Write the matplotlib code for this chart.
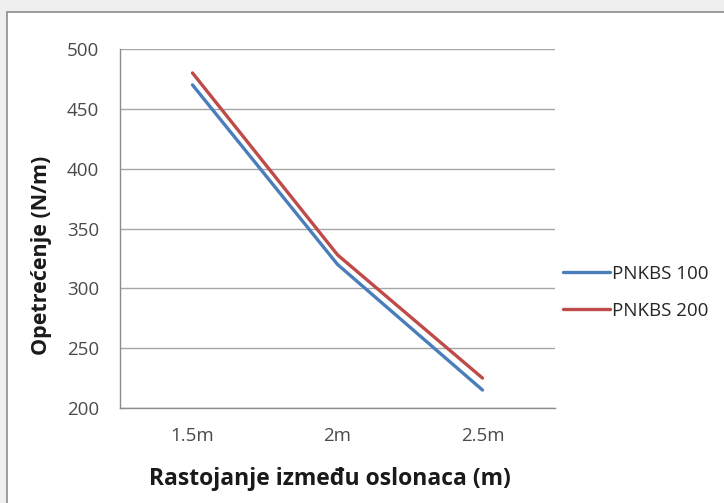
import matplotlib
matplotlib.use("Agg")
import matplotlib.pyplot as plt
from matplotlib.patches import Rectangle

categories = ["1.5m", "2m", "2.5m"]
pnkbs100 = [470, 320, 215]
pnkbs200 = [480, 328, 225]
series_names = ["PNKBS 100", "PNKBS 200"]
yticks = [200, 250, 300, 350, 400, 450, 500]

plt.rcParams['font.family'] = ['Open Sans', 'DejaVu Sans']

W, H = 724, 503
fig = plt.figure(figsize=(W/100, H/100), dpi=100)
fig.patch.set_facecolor('#efefef')

# chart area box (extends beyond right/bottom edges)
fig.patches.append(Rectangle((7/W, -0.05), 1.1, (H - 12)/H + 0.05, transform=fig.transFigure,
                             facecolor='white', edgecolor='#8c8c8c', linewidth=1.2, zorder=-10))

ax = fig.add_axes([120/W, (H-408)/H, (555-120)/W, (408-49)/H])
ax.set_zorder(5)
ax.set_facecolor('none')
x = list(range(len(categories)))
ax.plot(x, pnkbs100, color='#4a7ebb', linewidth=2.4, label=series_names[0], solid_capstyle='round', zorder=3)
ax.plot(x, pnkbs200, color='#be4b48', linewidth=2.4, label=series_names[1], solid_capstyle='round', zorder=3)

ax.set_xlim(-0.5, len(categories) - 0.5)
ax.set_ylim(200, 500)
ax.set_yticks(yticks)
ax.set_yticklabels([str(v) for v in yticks], fontsize=13.5, color='#4a4a4a')
ax.set_xticks(x)
ax.set_xticklabels(categories, fontsize=13.5, color='#4a4a4a')
ax.tick_params(axis='x', length=0, pad=14)
ax.tick_params(axis='y', length=0, pad=15)
ax.grid(axis='y', color='#a6a6a6', linewidth=1)
ax.set_axisbelow(True)
for s in ['top', 'right']:
    ax.spines[s].set_visible(False)
for s in ['left', 'bottom']:
    ax.spines[s].set_color('#8c8c8c')
    ax.spines[s].set_linewidth(1)

ax.set_xlabel("Rastojanje između oslonaca (m)", fontsize=16.5, fontweight='bold', color='#1a1a1a')
ax.set_ylabel("Opetrećenje (N/m)", fontsize=15.5, fontweight='bold', color='#1a1a1a')
ax.xaxis.label.set_va('center')
ax.yaxis.label.set_va('center')
ax.xaxis.set_label_coords((330-120)/435, (408-479)/359)
ax.yaxis.set_label_coords((42-120)/435, (408-255)/359)

leg = fig.legend(loc='upper left', bbox_to_anchor=(546/W, (H-248)/H), frameon=False,
                 fontsize=13.5, handlelength=2.5, handletextpad=0.1, labelspacing=1.0)
leg.set_zorder(6)
for t in leg.get_texts():
    t.set_color('#262626')

fig.savefig("out.png", dpi=100, facecolor=fig.get_facecolor())
